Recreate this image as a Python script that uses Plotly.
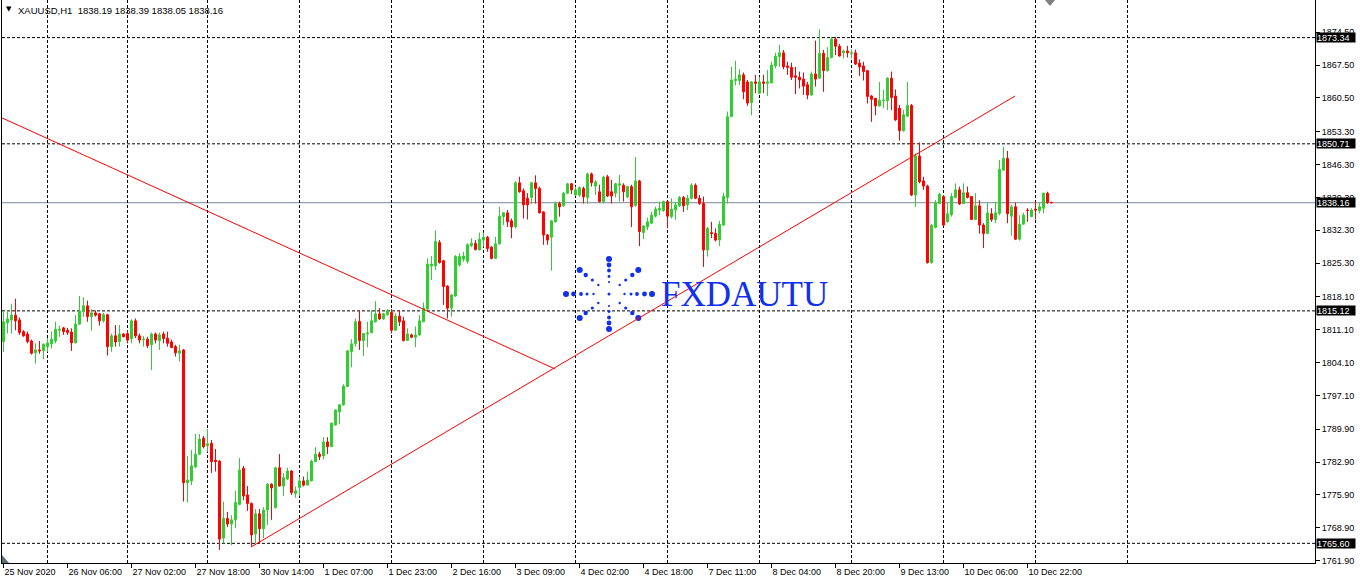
import plotly.graph_objects as go

# ---------------- data (XAUUSD H1) ----------------
opens = [1808.6,1812.6,1813.2,1814.2,1813.2,1810.7,1810.2,1808.7,1806.2,1806.8,
1806.6,1807.5,1808.1,1808.7,1811.0,1811.5,1811.0,1810.6,1808.3,1812.3,
1815.0,1816.2,1813.9,1814.7,1814.5,1813.0,1814.3,1807.5,1809.8,1808.6,
1810.2,1810.3,1809.2,1813.0,1809.8,1809.0,1809.1,1807.9,1810.2,1808.8,
1810.2,1809.3,1808.5,1807.5,1806.1,1806.8,1778.5,1778.9,1781.9,1784.6,
1788.0,1786.4,1786.9,1783.3,1783.1,1766.7,1770.9,1769.7,1770.6,1773.9,
1781.6,1775.9,1774.1,1767.6,1771.9,1768.7,1772.7,1778.2,1773.2,1781.7,
1777.8,1779.3,1781.0,1776.2,1777.5,1778.9,1778.0,1778.9,1783.0,1784.6,
1784.2,1787.2,1786.2,1790.8,1793.6,1795.1,1799.0,1806.4,1808.1,1812.9,
1808.8,1810.2,1810.5,1812.8,1814.5,1813.4,1814.3,1814.8,1811.0,1814.0,
1813.0,1808.8,1810.0,1809.5,1810.0,1812.8,1815.5,1824.7,1824.7,1829.7,
1825.8,1820.4,1815.7,1818.3,1824.9,1826.1,1825.7,1829.0,1829.5,1828.1,
1830.2,1830.8,1828.7,1826.3,1829.4,1835.2,1836.0,1834.3,1833.0,1842.4,
1840.7,1839.1,1839.3,1842.4,1841.2,1836.2,1831.3,1830.8,1834.1,1838.0,
1837.5,1840.2,1842.2,1839.8,1839.8,1841.2,1839.3,1844.3,1841.7,1840.5,
1838.4,1843.7,1840.5,1840.2,1841.9,1841.9,1839.4,1841.6,1837.6,1842.8,
1831.8,1833.0,1833.8,1835.3,1836.6,1836.5,1838.4,1835.2,1836.6,1837.5,
1839.3,1837.7,1839.1,1841.9,1839.1,1838.0,1828.1,1831.8,1831.6,1830.2,
1833.4,1839.3,1856.5,1864.2,1864.2,1865.4,1863.9,1859.5,1863.9,1861.5,
1863.9,1863.6,1863.7,1867.3,1869.3,1870.1,1867.3,1867.0,1865.2,1864.9,
1864.5,1863.3,1861.1,1865.6,1864.7,1870.0,1866.3,1869.1,1873.0,1871.5,
1870.1,1870.5,1870.0,1870.1,1867.9,1867.3,1866.3,1860.9,1860.4,1858.8,
1859.9,1859.9,1864.7,1860.9,1858.3,1853.5,1856.6,1858.9,1839.8,1848.1,
1842.8,1841.7,1825.4,1832.9,1838.0,1839.5,1834.1,1835.6,1839.3,1840.9,
1838.0,1840.3,1839.5,1834.6,1837.5,1833.4,1831.6,1835.8,1834.6,1835.9,
1845.1,1847.6,1835.3,1837.3,1830.4,1833.6,1836.6,1835.2,1836.8,1836.5,
1837.0,1840.2,1838.19]

highs = [1815.0,1815.0,1816.6,1817.7,1813.7,1811.0,1810.7,1809.0,1808.2,1808.7,
1808.2,1809.3,1810.7,1812.8,1812.0,1811.7,1811.5,1811.4,1814.2,1818.3,
1818.0,1817.3,1815.5,1815.2,1814.7,1814.7,1814.5,1810.3,1812.1,1812.1,
1810.4,1811.0,1813.3,1813.5,1810.3,1809.8,1809.6,1810.5,1810.5,1810.5,
1810.7,1810.7,1809.0,1807.9,1807.9,1807.0,1784.2,1785.5,1788.9,1788.9,
1788.5,1789.9,1787.6,1785.7,1783.3,1774.5,1772.3,1771.6,1776.8,1783.8,
1782.1,1777.8,1774.3,1772.9,1772.9,1773.3,1778.4,1778.4,1781.9,1784.6,
1780.6,1781.7,1781.2,1777.7,1779.8,1779.8,1780.9,1783.4,1786.1,1785.1,
1788.2,1788.2,1791.3,1794.1,1795.3,1799.5,1806.8,1809.1,1813.5,1815.2,
1810.4,1812.8,1815.2,1817.2,1815.7,1814.7,1815.5,1815.5,1814.6,1815.3,
1813.9,1811.4,1810.3,1811.8,1814.2,1816.9,1826.3,1826.8,1832.3,1830.2,
1826.0,1820.6,1818.7,1827.0,1827.4,1827.7,1829.5,1830.6,1830.2,1831.8,
1831.8,1831.1,1828.9,1830.9,1837.3,1836.2,1836.6,1834.8,1842.8,1843.7,
1841.2,1840.2,1842.6,1844.0,1841.6,1836.4,1831.5,1834.5,1838.4,1838.4,
1840.5,1842.4,1842.4,1841.6,1841.6,1841.6,1844.6,1844.6,1843.0,1842.0,
1843.9,1844.1,1843.0,1842.4,1844.1,1842.3,1841.7,1842.0,1847.9,1843.0,
1833.4,1835.0,1836.2,1837.3,1838.4,1838.6,1838.6,1839.1,1838.4,1839.6,
1839.6,1839.8,1842.3,1842.3,1839.8,1839.5,1833.0,1834.1,1832.7,1834.3,
1840.3,1857.6,1867.1,1868.4,1866.6,1865.9,1864.3,1864.1,1865.4,1865.0,
1865.4,1866.4,1868.2,1870.1,1871.8,1870.7,1868.2,1868.0,1867.1,1866.1,
1865.9,1863.9,1866.1,1872.7,1875.1,1870.7,1871.3,1873.5,1873.5,1872.0,
1870.8,1871.6,1870.8,1870.8,1868.7,1868.2,1866.4,1861.1,1860.5,1863.9,
1862.2,1864.9,1866.1,1862.3,1859.0,1857.9,1863.9,1859.2,1848.7,1851.0,
1843.7,1842.0,1833.6,1838.7,1840.3,1839.8,1838.2,1840.2,1842.3,1841.6,
1842.3,1841.6,1839.6,1840.2,1838.7,1833.8,1838.2,1837.0,1838.4,1847.3,
1850.1,1849.2,1837.7,1838.2,1835.5,1836.0,1837.0,1837.0,1838.4,1838.2,
1840.3,1840.5,1838.39]

lows = [1806.4,1810.3,1810.3,1811.0,1810.0,1809.6,1808.2,1805.8,1803.9,1806.0,
1804.8,1806.4,1807.1,1808.2,1809.6,1810.0,1810.0,1806.6,1808.2,1812.1,
1813.9,1812.8,1810.9,1813.9,1812.0,1812.6,1805.6,1806.4,1807.5,1807.5,
1809.5,1808.2,1808.2,1809.3,1808.2,1807.5,1807.2,1802.5,1808.2,1806.8,
1808.2,1807.5,1807.2,1805.4,1804.3,1774.5,1774.3,1778.0,1781.6,1784.4,
1785.8,1785.1,1780.6,1780.9,1764.2,1765.6,1769.1,1765.2,1768.8,1773.7,
1774.8,1772.5,1764.9,1765.6,1765.6,1766.7,1769.5,1770.6,1773.0,1777.7,
1775.7,1779.1,1775.9,1775.3,1775.7,1777.7,1778.0,1778.8,1782.9,1783.3,
1783.5,1784.6,1786.1,1790.7,1791.0,1794.9,1798.9,1803.1,1807.5,1806.8,
1805.5,1807.4,1810.3,1812.6,1813.2,1813.2,1814.1,1810.3,1810.9,1811.9,
1808.6,1808.7,1809.3,1807.4,1809.8,1812.7,1815.4,1821.7,1823.8,1825.2,
1816.4,1813.5,1813.9,1818.1,1824.5,1825.6,1825.2,1828.7,1828.0,1828.0,
1828.8,1827.7,1826.1,1826.2,1829.2,1833.4,1833.0,1830.6,1832.7,1840.3,
1834.8,1834.6,1837.9,1838.0,1835.9,1829.2,1829.2,1823.7,1833.9,1835.2,
1837.3,1840.0,1840.0,1839.6,1839.4,1838.0,1837.9,1841.6,1839.8,1838.2,
1838.0,1839.4,1838.0,1839.3,1838.4,1838.4,1839.1,1833.0,1837.3,1828.9,
1830.4,1832.3,1833.6,1835.0,1835.5,1836.2,1832.7,1834.8,1834.5,1837.3,
1836.2,1836.6,1838.9,1838.9,1837.7,1824.5,1826.7,1830.6,1829.9,1828.9,
1833.3,1838.0,1856.4,1863.2,1863.2,1860.2,1858.8,1856.8,1861.5,1861.3,
1861.5,1860.9,1863.6,1866.8,1867.1,1866.6,1865.4,1864.3,1861.3,1862.5,
1861.1,1860.2,1861.0,1862.9,1864.6,1861.8,1866.1,1868.9,1869.6,1869.3,
1868.9,1869.1,1868.9,1867.5,1865.2,1864.2,1859.3,1855.4,1856.8,1858.6,
1858.3,1857.9,1857.9,1855.6,1851.4,1853.3,1856.5,1839.6,1837.3,1842.3,
1840.9,1825.2,1825.2,1832.7,1837.9,1833.2,1833.9,1835.2,1839.1,1837.7,
1837.9,1839.1,1834.5,1834.5,1831.6,1828.5,1831.5,1834.1,1833.8,1835.5,
1845.0,1833.8,1831.1,1830.2,1830.1,1833.4,1834.1,1835.1,1834.6,1835.9,
1835.9,1837.9,1838.05]

closes = [1812.8,1813.4,1814.2,1813.0,1810.5,1809.8,1808.6,1806.1,1806.8,1806.6,
1808.0,1808.3,1809.1,1811.2,1811.2,1810.7,1810.5,1808.3,1812.3,1815.1,
1816.2,1813.9,1814.7,1814.2,1813.0,1814.3,1807.5,1809.8,1808.5,1810.2,
1809.6,1808.9,1813.0,1809.8,1808.9,1809.1,1807.7,1810.2,1808.9,1810.0,
1809.2,1808.2,1807.3,1806.2,1806.6,1778.5,1779.1,1782.1,1784.6,1787.8,
1786.2,1786.8,1783.0,1783.0,1766.5,1770.9,1769.7,1770.6,1774.3,1781.2,
1775.7,1774.1,1767.4,1771.9,1768.7,1772.7,1778.2,1777.4,1781.7,1777.8,
1779.6,1781.0,1776.4,1776.8,1778.9,1778.0,1779.1,1783.1,1784.6,1784.1,
1787.2,1786.2,1791.2,1794.0,1795.1,1799.1,1806.6,1808.1,1812.8,1808.8,
1810.3,1810.4,1813.0,1814.5,1813.4,1814.5,1815.2,1811.0,1814.0,1812.8,
1808.8,1810.2,1809.5,1810.0,1813.0,1815.7,1825.1,1825.1,1829.9,1825.4,
1820.3,1815.7,1818.5,1826.7,1826.7,1826.8,1829.2,1829.5,1828.2,1830.4,
1830.8,1828.4,1826.3,1829.4,1835.3,1836.0,1834.1,1833.0,1842.4,1840.5,
1837.7,1837.7,1842.4,1841.2,1836.0,1831.3,1830.2,1834.3,1838.0,1837.3,
1840.2,1842.2,1840.9,1840.9,1841.4,1839.4,1844.3,1842.4,1842.6,1838.4,
1843.6,1839.6,1839.6,1842.2,1842.2,1840.5,1841.6,1837.3,1842.8,1832.0,
1833.2,1834.1,1835.5,1836.8,1837.0,1838.4,1835.3,1836.8,1837.7,1839.3,
1837.5,1839.1,1841.9,1839.1,1838.0,1828.1,1832.7,1831.6,1830.2,1833.6,
1839.5,1856.5,1864.3,1864.5,1865.4,1861.8,1859.4,1863.9,1863.6,1863.9,
1863.6,1863.9,1867.5,1869.4,1870.1,1867.1,1867.0,1864.9,1864.9,1864.3,
1863.0,1861.1,1865.6,1864.5,1870.0,1866.3,1869.1,1873.0,1871.5,1869.4,
1870.5,1870.1,1870.1,1867.7,1867.1,1866.1,1860.8,1860.2,1858.8,1860.0,
1860.0,1864.7,1860.6,1855.8,1853.5,1856.9,1858.9,1839.8,1848.1,1842.6,
1841.7,1825.4,1833.4,1838.2,1840.0,1833.4,1835.8,1839.5,1840.9,1837.9,
1840.3,1839.3,1834.6,1837.5,1833.4,1831.6,1836.0,1834.6,1836.0,1845.3,
1847.6,1835.8,1837.3,1830.4,1833.6,1835.5,1836.5,1836.6,1836.6,1837.3,
1840.2,1838.2,1838.16]

bars = list(range(len(opens)))

# time-axis labels (every 16 H1 bars)
time_tick_bars = [0, 16, 32, 48, 64, 80, 96, 112, 128, 144, 160, 176, 192, 208, 224, 240, 256]
time_tick_labels = ["25 Nov 2020", "26 Nov 06:00", "27 Nov 02:00", "27 Nov 18:00",
                    "30 Nov 14:00", "1 Dec 07:00", "1 Dec 23:00", "2 Dec 16:00",
                    "3 Dec 09:00", "4 Dec 02:00", "4 Dec 18:00", "7 Dec 11:00",
                    "8 Dec 04:00", "8 Dec 20:00", "9 Dec 13:00", "10 Dec 06:00",
                    "10 Dec 22:00"]
grid_bars = [11, 31, 51, 74, 97, 120, 143, 166, 189, 212, 235, 258, 281]

price_ticks = [1874.50, 1867.50, 1860.50, 1853.30, 1846.30, 1839.30, 1832.30, 1825.30,
               1818.10, 1811.10, 1804.10, 1797.10, 1789.90, 1782.90, 1775.90,
               1768.90, 1761.90]

hlines = [1873.34, 1850.71, 1815.12, 1765.60]
bid = 1838.16

# trend lines: (bar, price) end points
trend1 = [(-0.875, 1856.42), (137.9, 1802.74)]
trend2 = [(61.9, 1764.82), (252.9, 1860.90)]

title_text = "XAUUSD,H1  1838.19 1838.39 1838.05 1838.16"

GREEN = "#32CD32"
RED = "#FF0000"
FONT = "Liberation Sans"

# ---------------- geometry ----------------
W, H = 1360, 581
ML, MR, MT, MB = 2, 45, 0, 18
PW, PH = W - ML - MR, H - MT - MB
BAR_PX = 4.0
x_lo = -0.375
x_hi = x_lo + PW / BAR_PX
y_hi = 1881.35
y_lo = y_hi - 0.21304 * PH


def px(xp):
    return (xp - ML) / PW


def py(yp):
    return 1 - (yp - MT) / PH


fig = go.Figure()
fig.add_trace(go.Candlestick(
    x=bars, open=opens, high=highs, low=lows, close=closes,
    increasing=dict(line=dict(color=GREEN, width=1), fillcolor=GREEN),
    decreasing=dict(line=dict(color=RED, width=1), fillcolor=RED),
    whiskerwidth=0, hoverinfo="skip", showlegend=False,
))

shapes = []
DASH = "3px,2px"
for lv in hlines:
    shapes.append(dict(type="line", xref="paper", yref="y", x0=0, x1=1, y0=lv, y1=lv,
                       line=dict(color="black", width=1, dash=DASH), layer="below"))
shapes.append(dict(type="line", xref="paper", yref="y", x0=0, x1=1, y0=bid, y1=bid,
                   line=dict(color="#778899", width=1), layer="below"))
for tl in (trend1, trend2):
    shapes.append(dict(type="line", xref="x", yref="y",
                       x0=tl[0][0], y0=tl[0][1], x1=tl[1][0], y1=tl[1][1],
                       line=dict(color=RED, width=1), layer="above"))

# logo starburst (decoration)
LOGO_BLUE = "#1030F0"
cx, cy = 609, 294
dots = []
for dist, r in zip([43, 35.5, 28, 22, 15.5], [3.0, 2.4, 1.9, 1.5, 1.2]):
    dots += [(dist, 0, r), (-dist, 0, r)]
for dist, r in zip([35, 29, 23.5, 17.5, 12], [3.0, 2.4, 1.9, 1.4, 1.1]):
    dots += [(0, dist, r), (0, -dist, r)]
for (ddx, ddy), r in zip([(29.3, 24), (23.3, 19), (16.7, 14), (10.7, 9)], [3.0, 2.2, 1.6, 1.2]):
    dots += [(ddx, ddy, r), (-ddx, ddy, r), (ddx, -ddy, r), (-ddx, -ddy, r)]
dots.append((0, 0, 1.5))
for ddx, ddy, r in dots:
    shapes.append(dict(type="circle", xref="paper", yref="paper",
                       x0=px(cx + ddx - r), x1=px(cx + ddx + r),
                       y0=py(cy + ddy + r), y1=py(cy + ddy - r),
                       fillcolor=LOGO_BLUE, line=dict(width=0), layer="below"))

# chart-shift marker and corner marker
shapes.append(dict(type="path", xref="paper", yref="paper",
                   path=f"M {px(1045)},{py(0)} L {px(1055)},{py(0)} L {px(1050)},{py(6)} Z",
                   fillcolor="#7f7f7f", line=dict(width=0)))
shapes.append(dict(type="path", xref="paper", yref="paper",
                   path=f"M {px(2)},{py(555)} L {px(2)},{py(563)} L {px(9)},{py(563)} Z",
                   fillcolor="#5f6f7f", line=dict(width=0)))

annotations = []
annotations.append(dict(xref="paper", yref="paper", x=px(4), y=py(3), xanchor="left", yanchor="top",
                        text="▼", showarrow=False, font=dict(family="DejaVu Sans", size=7, color="black")))
annotations.append(dict(xref="paper", yref="paper", x=px(16), y=py(3), xanchor="left", yanchor="top",
                        text=title_text.replace("  ", "&nbsp; "), showarrow=False,
                        font=dict(family=FONT, size=9.5, color="black")))
for lv in hlines + [bid]:
    annotations.append(dict(xref="paper", yref="y", x=1, y=lv, xanchor="left", yanchor="middle",
                            xshift=1, text=f"{lv:.2f}", showarrow=False, bgcolor="black",
                            width=38, height=9, borderpad=0, align="left",
                            font=dict(family=FONT, size=9, color="white")))
annotations.append(dict(xref="paper", yref="paper", x=px(744), y=py(294), xanchor="center", yanchor="middle",
                        text="FXDAUTU", showarrow=False,
                        font=dict(family="Liberation Serif", size=35, color=LOGO_BLUE)))

fig.update_layout(
    width=W, height=H,
    margin=dict(l=ML, r=MR, t=MT, b=MB, pad=0),
    paper_bgcolor="white", plot_bgcolor="white",
    showlegend=False,
    shapes=shapes, annotations=annotations,
    font=dict(family=FONT, size=9, color="black"),
    xaxis=dict(
        range=[x_lo, x_hi], rangeslider=dict(visible=False),
        tickmode="array", tickvals=time_tick_bars, ticktext=time_tick_labels,
        ticks="outside", ticklen=4, tickcolor="black", tickwidth=1,
        ticklabelposition="outside right",
        tickfont=dict(family=FONT, size=9, color="black"),
        showgrid=False, zeroline=False,
        showline=True, linecolor="black", linewidth=1, mirror=True,
        minor=dict(tickmode="array", tickvals=grid_bars, showgrid=True,
                   gridcolor="black", gridwidth=1, griddash=DASH, ticks=""),
        fixedrange=True,
    ),
    yaxis=dict(
        range=[y_lo, y_hi], side="right",
        tickmode="array", tickvals=price_ticks, ticktext=[f"{v:.2f}" for v in price_ticks],
        ticks="outside", ticklen=4, tickcolor="black",
        tickfont=dict(family=FONT, size=9, color="black"),
        showgrid=False, zeroline=False,
        showline=True, linecolor="black", linewidth=1, mirror=True,
        fixedrange=True,
    ),
)

fig.write_html(
    "out.html",
    config={"displayModeBar": False},
    post_script="document.body.style.margin='0';document.body.style.padding='0';"
                "document.documentElement.style.overflow='hidden';",
)
